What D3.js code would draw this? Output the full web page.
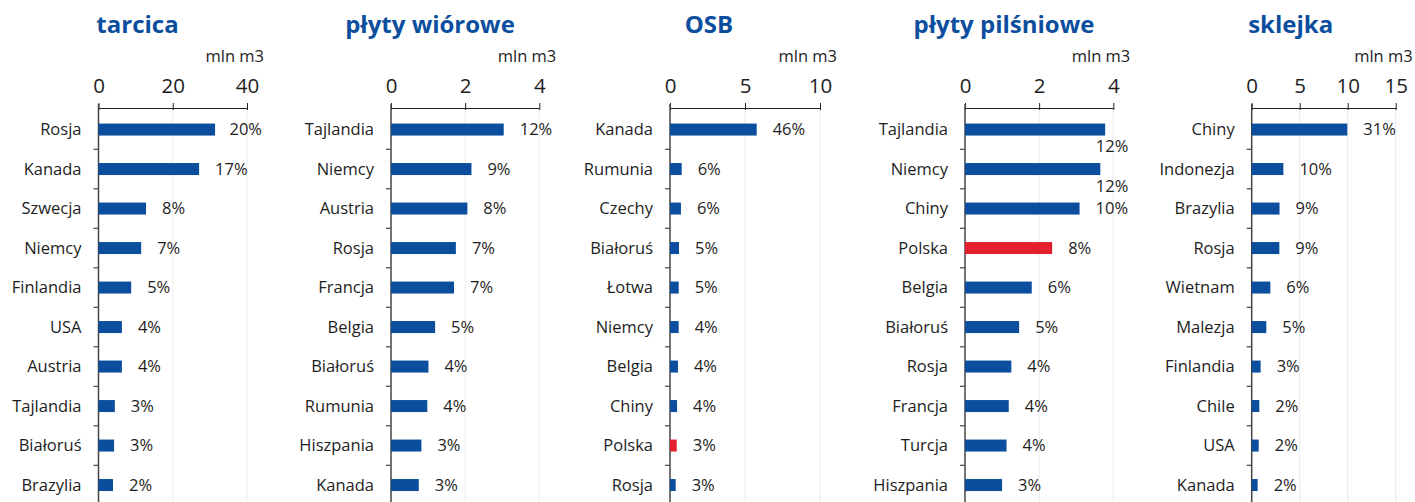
<!DOCTYPE html>
<html>
<head>
<meta charset="utf-8">
<script src="https://cdn.jsdelivr.net/npm/d3@7"></script>
<style>
  body { margin: 0; background: #fff; }
  text { font-family: "Open Sans", sans-serif; }
</style>
</head>
<body>
<div id="chart"></div>
<script>
// titles and units
let titles = ["tarcica", "płyty wiórowe", "OSB", "płyty pilśniowe", "sklejka"]
let unit = "mln m3"

// tarcica
let tarcica_countries = ["Rosja", "Kanada", "Szwecja", "Niemcy", "Finlandia", "USA", "Austria", "Tajlandia", "Białoruś", "Brazylia"]
let tarcica_values = [31.4, 27.1, 12.8, 11.5, 8.8, 6.3, 6.3, 4.4, 4.2, 3.9]
let tarcica_shares = ["20%", "17%", "8%", "7%", "5%", "4%", "4%", "3%", "3%", "2%"]
let tarcica_ticks = [0, 20, 40]

// płyty wiórowe
let wiorowe_countries = ["Tajlandia", "Niemcy", "Austria", "Rosja", "Francja", "Belgia", "Białoruś", "Rumunia", "Hiszpania", "Kanada"]
let wiorowe_values = [3.04, 2.17, 2.06, 1.75, 1.70, 1.19, 1.01, 0.98, 0.82, 0.75]
let wiorowe_shares = ["12%", "9%", "8%", "7%", "7%", "5%", "4%", "4%", "3%", "3%"]
let wiorowe_ticks = [0, 2, 4]

// OSB
let osb_countries = ["Kanada", "Rumunia", "Czechy", "Białoruś", "Łotwa", "Niemcy", "Belgia", "Chiny", "Polska", "Rosja"]
let osb_values = [5.78, 0.78, 0.73, 0.60, 0.58, 0.58, 0.53, 0.47, 0.45, 0.38]
let osb_shares = ["46%", "6%", "6%", "5%", "5%", "4%", "4%", "4%", "3%", "3%"]
let osb_ticks = [0, 5, 10]

// płyty pilśniowe
let pilsniowe_countries = ["Tajlandia", "Niemcy", "Chiny", "Polska", "Belgia", "Białoruś", "Rosja", "Francja", "Turcja", "Hiszpania"]
let pilsniowe_values = [3.78, 3.65, 3.09, 2.35, 1.80, 1.46, 1.25, 1.18, 1.12, 1.00]
let pilsniowe_shares = ["12%", "12%", "10%", "8%", "6%", "5%", "4%", "4%", "4%", "3%"]
let pilsniowe_ticks = [0, 2, 4]

// sklejka
let sklejka_countries = ["Chiny", "Indonezja", "Brazylia", "Rosja", "Wietnam", "Malezja", "Finlandia", "Chile", "USA", "Kanada"]
let sklejka_values = [9.96, 3.3, 2.9, 2.88, 1.94, 1.52, 0.93, 0.79, 0.73, 0.62]
let sklejka_shares = ["31%", "10%", "9%", "9%", "6%", "5%", "3%", "2%", "2%", "2%"]
let sklejka_ticks = [0, 5, 10, 15]

let highlight = "Polska"

let panels = [
    {countries: tarcica_countries, values: tarcica_values, shares: tarcica_shares, ticks: tarcica_ticks},
    {countries: wiorowe_countries, values: wiorowe_values, shares: wiorowe_shares, ticks: wiorowe_ticks},
    {countries: osb_countries, values: osb_values, shares: osb_shares, ticks: osb_ticks},
    {countries: pilsniowe_countries, values: pilsniowe_values, shares: pilsniowe_shares, ticks: pilsniowe_ticks},
    {countries: sklejka_countries, values: sklejka_values, shares: sklejka_shares, ticks: sklejka_ticks}
]

// layout (pixel positions of each panel's plot area)
let layout = [
    {left: 98.5, width: 148.5},
    {left: 391, width: 148.3},
    {left: 670, width: 150},
    {left: 965, width: 148.3},
    {left: 1251.7, width: 144}
]

let width = 1415
let height = 502
let axisY = 108
let bandTop = 109.8
let step = 39.5
let barH = 12
let color_bar = "#0b4e9e"
let color_red = "#e3202c"
let color_title = "#0b4e9e"
let color_text = "#1e1e1e"

let svg = d3.select("#chart")
    .append("svg")
    .attr("width", width)
    .attr("height", height)
    .attr("viewBox", [0, 0, width, height])

panels.forEach(function(p, i) {
    let L = layout[i]
    let g = svg.append("g")

    let x = d3.scaleLinear()
        .domain([p.ticks[0], p.ticks[p.ticks.length - 1]])
        .range([L.left, L.left + L.width])
    let y = d3.scaleBand()
        .domain(p.countries)
        .range([bandTop, bandTop + step * p.countries.length])
        .paddingInner(0)

    // title
    g.append("text")
        .attr("x", L.left + 39)
        .attr("y", 33)
        .attr("text-anchor", "middle")
        .style("font-size", "24px")
        .style("font-weight", "bold")
        .style("fill", color_title)
        .text(titles[i])

    // unit
    g.append("text")
        .attr("x", L.left + L.width + 17)
        .attr("y", 62)
        .attr("text-anchor", "end")
        .style("font-size", "16.5px")
        .style("fill", color_text)
        .text(unit)

    // light gridlines
    g.selectAll(".grid")
        .data(p.ticks.slice(1))
        .enter()
        .append("line")
        .attr("x1", d => x(d))
        .attr("x2", d => x(d))
        .attr("y1", axisY)
        .attr("y2", height)
        .style("stroke", "#ebebeb")
        .style("stroke-width", 1)

    // top value axis
    let xAxis = g.append("g")
        .attr("transform", "translate(0," + axisY + ")")
        .call(d3.axisTop(x)
            .tickValues(p.ticks)
            .tickFormat(d3.format("d"))
            .tickSizeInner(5)
            .tickSizeOuter(0)
            .tickPadding(10))
    xAxis.select(".domain").style("stroke", "#222").style("stroke-width", 1.2)
    xAxis.selectAll(".tick line").style("stroke", "#222").attr("y2", 2).attr("y1", -5)
    xAxis.selectAll(".tick text")
        .style("font-size", "20.5px")
        .style("font-family", "'Open Sans', sans-serif")
        .style("fill", color_text)

    // category axis (ticks at band boundaries)
    g.append("line")
        .attr("x1", L.left).attr("x2", L.left)
        .attr("y1", axisY - 4).attr("y2", height)
        .style("stroke", "#444").style("stroke-width", 1.5)
    g.selectAll(".ctick")
        .data(p.countries.slice(1))
        .enter()
        .append("line")
        .attr("x1", L.left - 5).attr("x2", L.left)
        .attr("y1", d => y(d)).attr("y2", d => y(d))
        .style("stroke", "#444").style("stroke-width", 1.2)

    g.selectAll(".clabel")
        .data(p.countries)
        .enter()
        .append("text")
        .attr("x", L.left - 17)
        .attr("y", d => y(d) + y.bandwidth() / 2)
        .attr("dy", "0.35em")
        .attr("text-anchor", "end")
        .style("font-size", "16.5px")
        .style("fill", color_text)
        .text(d => d)

    // bars
    g.selectAll(".bar")
        .data(p.countries)
        .enter()
        .append("rect")
        .attr("x", x(0))
        .attr("y", d => y(d) + y.bandwidth() / 2 - barH / 2)
        .attr("width", (d, k) => x(p.values[k]) - x(0))
        .attr("height", barH)
        .style("fill", d => d == highlight ? color_red : color_bar)

    // value labels (share), pushed below the bar when they don't fit
    let limit = L.left + L.width + 15
    p.countries.forEach(function(c, k) {
        let end = x(p.values[k])
        let cy = y(c) + y.bandwidth() / 2
        let t = g.append("text")
            .attr("dy", "0.35em")
            .style("font-size", "16.5px")
            .style("fill", color_text)
            .text(p.shares[k])
        let w = t.node().getComputedTextLength()
        let tx = end + 16
        if (tx + w > limit) {
            tx = limit - w
            if (tx < end + 4) {
                cy = cy + 17
            }
        }
        t.attr("x", tx).attr("y", cy)
    })
})
</script>
</body>
</html>
